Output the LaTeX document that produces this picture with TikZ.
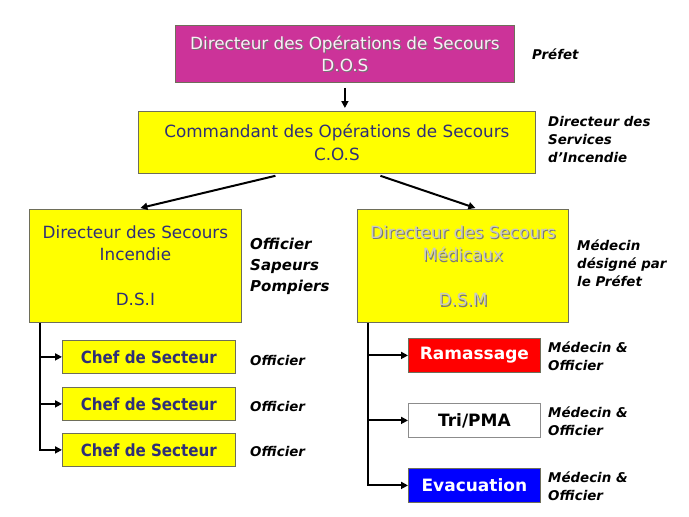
\documentclass[tikz,border=0pt]{standalone}
\usepackage{fontspec}
\setmainfont{DejaVu Sans}
\newfontfamily\boxfont{DejaVu Sans}
\newfontfamily\chefont{DejaVu Sans Condensed}
\newfontfamily\labfont{DejaVu Sans}
\usetikzlibrary{arrows.meta}
\definecolor{dosmag}{RGB}{204,51,153}
\definecolor{ylw}{RGB}{255,255,0}
\definecolor{navy}{RGB}{46,46,120}
\definecolor{bord}{RGB}{110,110,90}
\definecolor{dsmtxt}{RGB}{200,200,200}
\definecolor{dsmshd}{RGB}{120,120,120}
\definecolor{redbox}{RGB}{255,0,0}
\definecolor{bluebox}{RGB}{0,0,255}
\tikzset{
  box/.style={draw=bord, line width=0.8pt, inner sep=0pt, anchor=north west},
  ybox/.style={box, fill=ylw},
  btxt/.style={align=center, font=\boxfont\fontsize{16.8}{22.5}\selectfont, inner sep=0pt},
  lab/.style={anchor=west, align=left, inner sep=0pt, font=\labfont\bfseries\itshape\fontsize{13.4}{18}\selectfont},
  chef/.style={ybox, minimum width=173pt, minimum height=33pt, text=navy, font=\chefont\bfseries\fontsize{16.8}{20}\selectfont, text depth=0pt},
  medbox/.style={box, minimum width=132pt, minimum height=34pt, font=\labfont\bfseries\fontsize{17}{18}\selectfont},
  arr/.style={line width=2pt, -{Triangle[length=7pt,width=7pt]}},
  ln/.style={line width=2pt}
}
\begin{document}
\begin{tikzpicture}[x=1pt,y=-1pt]
\useasboundingbox[fill=white] (0,0) rectangle (689,517);
% DOS
\node[box, fill=dosmag, minimum width=339pt, minimum height=57pt] (dos) at (175,25) {};
\node[btxt, text=black!55] (dosS) at ([shift={(1.2pt,-1.2pt)}]dos.center) {Directeur des Opérations de Secours\\D.O.S};
\node[btxt, text=white!92!dosmag] (dosT) at (dos.center) {Directeur des Opérations de Secours\\D.O.S};
\node[lab] (prefet) at (532,54) {Préfet};
% COS
\node[ybox, minimum width=397pt, minimum height=62pt] (cos) at (138,111) {};
\node[btxt, text=navy] (cosT) at ([yshift=0pt]cos.center) {Commandant des Opérations de Secours\\C.O.S};
\node[lab] (cosL) at (548,140) {Directeur des\\Services\\d’Incendie};
\coordinate (dosA) at ([yshift=-5pt]dos.south);
\draw[arr] (dosA) -- ([yshift=3pt]dosA |- cos.north);
% DSI
\node[ybox, minimum width=212pt, minimum height=113pt] (dsi) at (29,209) {};
\node[btxt, text=navy] (dsiT) at (dsi.center) {Directeur des Secours\\Incendie\\[22.5pt]D.S.I};
\node[lab, font=\labfont\bfseries\itshape\fontsize{15}{21}\selectfont] (dsiL) at (250,266) {Officier\\Sapeurs\\Pompiers};
% DSM
\node[ybox, minimum width=211pt, minimum height=113pt] (dsm) at (357,209) {};
\node[btxt, text=dsmshd] (dsmS) at ([shift={(1.2pt,-1.2pt)}]dsm.center) {Directeur des Secours\\Médicaux\\[22.5pt]D.S.M};
\node[btxt, text=dsmtxt] (dsmT) at (dsm.center) {Directeur des Secours\\Médicaux\\[22.5pt]D.S.M};
\node[lab] (dsmL) at (577,263) {Médecin\\désigné par\\le Préfet};
% arrows COS -> DSI / DSM
\draw[arr] ([xshift=-61.5pt,yshift=-2pt]cos.south) -- ([xshift=5pt,yshift=1pt]dsi.north);
\draw[arr] ([xshift=43.5pt,yshift=-2pt]cos.south) -- ([xshift=12.5pt,yshift=1pt]dsm.north);
% Chefs
\node[chef] (c1) at (62,340) {Chef de Secteur};
\node[chef] (c2) at (62,387) {Chef de Secteur};
\node[chef] (c3) at (62,433) {Chef de Secteur};
\node[lab] (c1L) at (250,360) {Officier};
\node[lab] (c2L) at (250,406) {Officier};
\node[lab] (c3L) at (250,451) {Officier};
\coordinate (lt) at ([xshift=11pt]dsi.south west);
\draw[arr] (lt) |- (c3.west);
\draw[arr] (c1.west -| lt) -- (c1.west);
\draw[arr] (c2.west -| lt) -- (c2.west);
% Medical
\node[medbox, fill=redbox, text=white] (ram) at (408,338) {Ramassage};
\node[medbox, fill=white, text=black, draw=black!45] (tri) at (408,403) {Tri/PMA};
\node[medbox, fill=bluebox, text=white] (eva) at (408,468) {Evacuation};
\node[lab] (ramL) at (548,356) {Médecin \&\\Officier};
\node[lab] (triL) at (548,421) {Médecin \&\\Officier};
\node[lab] (evaL) at (548,486) {Médecin \&\\Officier};
\coordinate (rt) at ([xshift=11pt]dsm.south west);
\draw[arr] (rt) |- (eva.west);
\draw[arr] (ram.west -| rt) -- (ram.west);
\draw[arr] (tri.west -| rt) -- (tri.west);
\end{tikzpicture}
\end{document}
